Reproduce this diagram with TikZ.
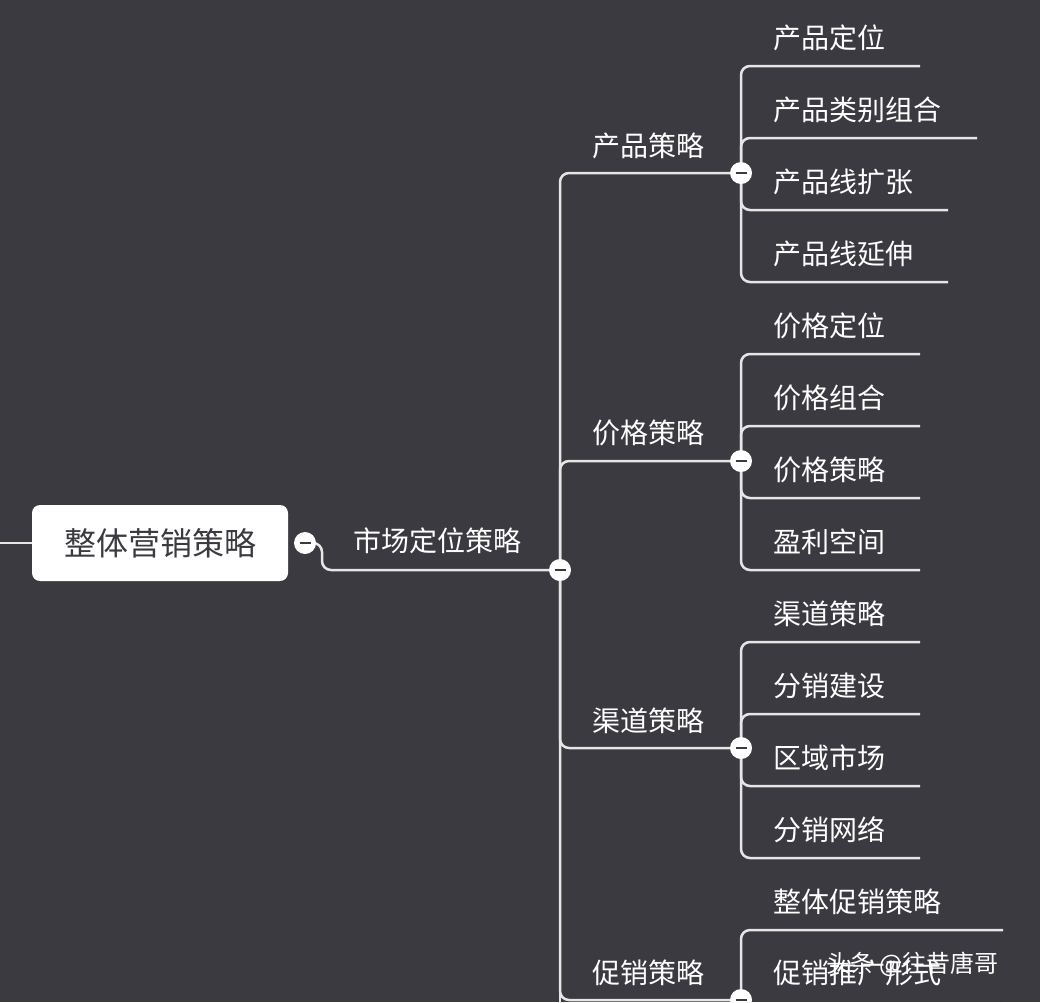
\documentclass[tikz,border=0pt]{standalone}
\usepackage{fontspec}
\setmainfont{Noto Sans CJK SC}
\definecolor{bgc}{HTML}{3A3A40}
\definecolor{linec}{HTML}{E6E6E6}
\tikzset{
		basic/.style  = {inner sep=0pt, text=white, font=\fontsize{28}{32}\selectfont},
		root/.style   = {fill=white, rounded corners=8pt, minimum width=256pt, minimum height=76pt, text=bgc, font=\fontsize{32}{36}\selectfont},
		level 2/.style = {basic},
		level 3/.style = {basic, anchor=west},
		fold/.style = {circle, fill=white, minimum size=22pt, inner sep=0pt},
		link/.style = {draw=linec, line width=2.5pt, rounded corners=9pt}
	}
\newcommand{\foldmark}{\textcolor{bgc}{\rule[0.2pt]{11pt}{2.6pt}}}

\begin{document}
\begin{tikzpicture}[x=1pt,y=-1pt]
		\fill[bgc] (0,0) rectangle (1040,1002);
		\useasboundingbox (0,0) rectangle (1040,1002);
		
		% root and first fold
		\coordinate (in) at (0,543);
		\node[root] (r) at (160,543) {整体营销策略};
		\draw[link] (in) -- (r.west);
		\coordinate (r1) at (305,543);
		\coordinate (m) at (560,570);
		\node[level 2] (ml) at (437,541) {市场定位策略};
		\draw[link] (r1) -- ++(17,0) |- (m);
		
		% second level
		\coordinate (c1) at (741,173);
		\coordinate (c2) at (741,461);
		\coordinate (c3) at (741,748);
		\coordinate (c4) at (741,1000);
		\node[level 2] at (648,146) {产品策略};
		\node[level 2] at (648,433) {价格策略};
		\node[level 2] at (648,721) {渠道策略};
		\node[level 2] at (648,973) {促销策略};
		\foreach \value in {1,...,4}
		\draw[link] (m) |- (c\value);
		\draw[link] (m) -- (560,1010);
		
		% third level, underlines
		\coordinate (c11) at (920,66);
		\coordinate (c12) at (977,138);
		\coordinate (c13) at (948,210);
		\coordinate (c14) at (948,282);
		\coordinate (c21) at (920,354);
		\coordinate (c22) at (920,426);
		\coordinate (c23) at (920,498);
		\coordinate (c24) at (920,570);
		\coordinate (c31) at (920,642);
		\coordinate (c32) at (920,714);
		\coordinate (c33) at (920,786);
		\coordinate (c34) at (920,858);
		\coordinate (c41) at (1003,930);
		\coordinate (c42) at (1003,1004);
		\foreach \value in {1,...,4}
		\draw[link] (c1) |- (c1\value);
		\foreach \value in {1,...,4}
		\draw[link] (c2) |- (c2\value);
		\foreach \value in {1,...,4}
		\draw[link] (c3) |- (c3\value);
		\foreach \value in {1,2}
		\draw[link] (c4) |- (c4\value);
		
		\begin{scope}[every node/.style={level 3}]
		\node at (773,38) {产品定位};
		\node at (773,110) {产品类别组合};
		\node at (773,182) {产品线扩张};
		\node at (773,254) {产品线延伸};
		\node at (773,326) {价格定位};
		\node at (773,398) {价格组合};
		\node at (773,470) {价格策略};
		\node at (773,542) {盈利空间};
		\node at (773,614) {渠道策略};
		\node at (773,686) {分销建设};
		\node at (773,758) {区域市场};
		\node at (773,830) {分销网络};
		\node at (773,902) {整体促销策略};
		\node at (773,973) {促销推广形式};
		\end{scope}
		
		% fold buttons
		\foreach \p in {r1,m,c1,c2,c3,c4}
		\node[fold] at (\p) {\foldmark};
		
		\node[basic, anchor=west, font=\fontsize{24}{28}\selectfont] (wm) at (826,964) {头条 @往昔唐哥};
	\end{tikzpicture}
\end{document}
